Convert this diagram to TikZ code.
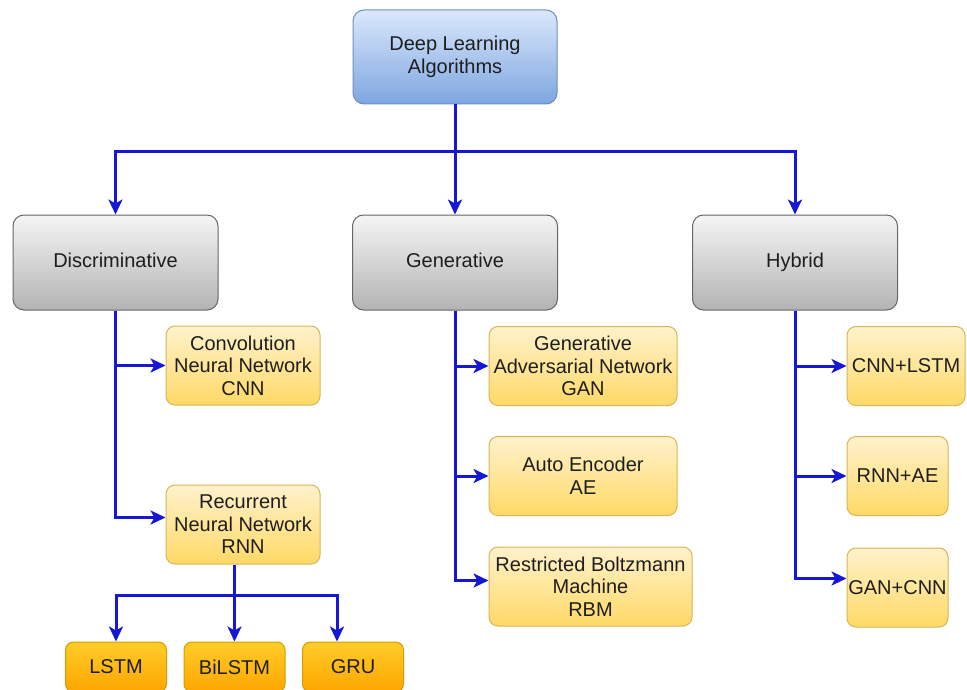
\documentclass[tikz,border=0pt]{standalone}
\usepackage{fontspec}
\setmainfont{Liberation Sans}
\usetikzlibrary{arrows.meta,calc}
\definecolor{link}{RGB}{22,22,214}
\definecolor{ink}{RGB}{30,30,30}
\tikzset{
  box/.style={rounded corners=11pt, line width=1pt, inner sep=0pt, align=center,
    text=ink, font=\fontsize{20}{22.5}\selectfont},
  rootbox/.style={box, draw={rgb,255:red,108;green,142;blue,191},
    top color={rgb,255:red,218;green,232;blue,252}, bottom color={rgb,255:red,126;green,166;blue,224},
    minimum width=204pt, minimum height=94pt},
  catbox/.style={box, draw={rgb,255:red,102;green,102;blue,102},
    top color={rgb,255:red,245;green,245;blue,245}, bottom color={rgb,255:red,179;green,179;blue,179},
    minimum width=205pt, minimum height=95pt, text height=14.5pt, text depth=4.2pt},
  algbox/.style={box, rounded corners=9pt, draw={rgb,255:red,214;green,182;blue,86},
    top color={rgb,255:red,255;green,242;blue,204}, bottom color={rgb,255:red,255;green,217;blue,102},
    minimum height=79pt},
  leafbox/.style={box, rounded corners=8pt, draw={rgb,255:red,215;green,155;blue,0},
    top color={rgb,255:red,255;green,205;blue,40}, bottom color={rgb,255:red,255;green,165;blue,0},
    minimum width=101pt, minimum height=50pt},
  conn/.style={draw=link, line width=3pt,
    -{Stealth[length=15pt,width=14pt,inset=4pt]}},
  wire/.style={draw=link, line width=3pt}
}
\begin{document}
\begin{tikzpicture}[x=1pt,y=-1pt]
\useasboundingbox (0,0) rectangle (967,690);

% root and the three families
\node[rootbox] (dl) at (455,57) {Deep Learning\\Algorithms};
\node[catbox] (disc) at (115.5,262.5) {Discriminative};
\node[catbox] (gen) at (455,262.5) {Generative};
\node[catbox] (hyb) at (795,262.5) {Hybrid};

% discriminative models
\node[algbox, minimum width=154pt] (cnn) at (243,365.5) {Convolution\\Neural Network\\CNN};
\node[algbox, minimum width=154pt] (rnn) at (243,524.5) {Recurrent\\Neural Network\\RNN};
\node[leafbox] (lstm) at (116,667) {LSTM};
\node[leafbox] (bil) at (234.5,667) {BiLSTM};
\node[leafbox] (gru) at (353,667) {GRU};

% generative models
\node[algbox, minimum width=188pt] (gan) at (583,366) {Generative\\Adversarial Network\\GAN};
\node[algbox, minimum width=188pt] (ae) at (583,476) {Auto Encoder\\AE};
\node[algbox, minimum width=203pt] (rbm) at (590.5,586.5) {Restricted Boltzmann\\Machine\\RBM};

% hybrid models
\node[algbox, minimum width=118pt] (cl) at (906,366) {CNN+LSTM};
\node[algbox, minimum width=101pt] (ra) at (897.5,476) {RNN+AE};
\node[algbox, minimum width=101pt] (gc) at (897.5,587.5) {GAN+CNN};

% bus levels
\coordinate (bus) at (455,152);
\coordinate (bus2) at (235,595);

% root to families
\draw[conn] (dl.south) -- (dl.south |- bus) -| (disc.north);
\draw[conn] (dl.south) -- (gen.north);
\draw[conn] (dl.south) -- (dl.south |- bus) -| (hyb.north);

% discriminative branch
\draw[conn] (disc.south) |- (cnn.west);
\draw[conn] (disc.south) |- ([yshift=7pt]rnn.west);
\draw[conn] (bil.north |- rnn.south) -- (bil.north);
\draw[conn] (bil.north |- rnn.south) -- (bil.north |- bus2) -| (lstm.north);
\draw[conn] (bil.north |- rnn.south) -- (bil.north |- bus2) -| ([xshift=-16pt]gru.north);

% generative branch
\draw[conn] (gen.south) |- (gan.west);
\draw[conn] (gen.south) |- (ae.west);
\draw[conn] (gen.south) |- ([yshift=6pt]rbm.west);

% hybrid branch
\draw[conn] (hyb.south) |- (cl.west);
\draw[conn] (hyb.south) |- (ra.west);
\draw[conn] (hyb.south) |- ([yshift=9pt]gc.west);
\end{tikzpicture}
\end{document}
